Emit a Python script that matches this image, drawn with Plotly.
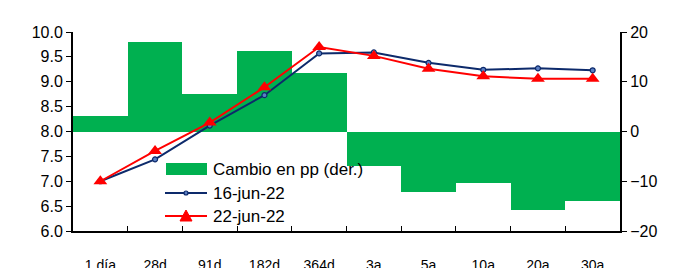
import plotly.graph_objects as go

categories = ["1 día", "28d", "91d", "182d", "364d", "3a", "5a", "10a", "20a", "30a"]
cambio_pp = [3.1, 18.0, 7.5, 16.2, 11.8, -6.9, -12.2, -10.3, -15.8, -13.9]
jun16 = [7.00, 7.44, 8.12, 8.73, 9.57, 9.59, 9.38, 9.24, 9.27, 9.23]
jun22 = [7.00, 7.61, 8.18, 8.89, 9.70, 9.52, 9.26, 9.11, 9.06, 9.06]
left_ticks = [6.0, 6.5, 7.0, 7.5, 8.0, 8.5, 9.0, 9.5, 10.0]
right_ticks = [-20, -10, 0, 10, 20]
legend_names = ["Cambio en pp (der.)", "16-jun-22", "22-jun-22"]

FONT = "Liberation Sans, Arial, sans-serif"
GREEN, NAVY, RED = "#00B050", "#0D2A6B", "#FF0000"
OFF = 8  # page body margin
W, H = 675 - OFF, 268 - OFF
PL, PR, PT, PB = 73, 620, 32, 231  # plot area in page pixels
ML, MR, MT, MB = PL - OFF, W + OFF - PR, PT - OFF, H + OFF - PB
PW, PH = PR - PL, PB - PT


def px(x):
    return (x - PL) / PW


def py(y):
    return (PB - y) / PH


fig = go.Figure()
fig.add_trace(go.Bar(x=categories, y=cambio_pp, yaxis="y", name=legend_names[0],
                     marker=dict(color=GREEN, line=dict(width=0)), showlegend=False))
fig.add_trace(go.Scatter(x=categories, y=jun16, mode="lines+markers", yaxis="y2",
                         name=legend_names[1], showlegend=False,
                         line=dict(color=NAVY, width=2),
                         marker=dict(symbol="circle", size=5, color="#5B7FC4",
                                     line=dict(color=NAVY, width=1.2))))
fig.add_trace(go.Scatter(x=categories, y=jun22, mode="lines+markers", yaxis="y2",
                         name=legend_names[2], showlegend=False,
                         line=dict(color=RED, width=2),
                         marker=dict(symbol="triangle-up", size=12, color=RED)))

# custom legend (paper coordinates)
shapes = [
    dict(type="rect", xref="paper", yref="paper", x0=px(166), x1=px(207), y0=py(175), y1=py(163),
         fillcolor=GREEN, line=dict(width=0)),
    dict(type="line", xref="paper", yref="paper", x0=px(165), x1=px(207), y0=py(193), y1=py(193),
         line=dict(color=NAVY, width=2)),
    dict(type="circle", xref="paper", yref="paper", x0=px(184), x1=px(188), y0=py(195), y1=py(191),
         fillcolor="#5B7FC4", line=dict(color=NAVY, width=1.2)),
    dict(type="line", xref="paper", yref="paper", x0=px(165), x1=px(207), y0=py(216), y1=py(216),
         line=dict(color=RED, width=2)),
    dict(type="path", xref="paper", yref="paper",
         path=f"M {px(180)} {py(221)} L {px(192)} {py(221)} L {px(186)} {py(210)} Z",
         fillcolor=RED, line=dict(color=RED, width=1)),
]
annotations = [
    dict(text=legend_names[i], xref="paper", yref="paper", x=px(211), y=py(yy),
         xanchor="left", yanchor="middle", showarrow=False,
         font=dict(size=17, family=FONT, color="black"))
    for i, yy in enumerate([169, 193, 216])
]

fig.update_layout(
    width=W, height=H,
    margin=dict(l=ML, r=MR, t=MT, b=MB),
    paper_bgcolor="white", plot_bgcolor="white",
    font=dict(family=FONT, size=16, color="black"),
    bargap=0,
    showlegend=False,
    shapes=shapes,
    annotations=annotations,
    xaxis=dict(type="category", range=[-0.5, len(categories) - 0.5],
               showline=True, linecolor="black", linewidth=2,
               ticks="inside", tickson="boundaries", ticklen=5, tickcolor="black",
               tickfont=dict(size=14), ticklabelstandoff=20, showgrid=False,
               zeroline=False, automargin=False),
    yaxis=dict(range=[-20, 20], tickvals=right_ticks, side="right",
               showline=True, linecolor="black", linewidth=2, ticks="outside",
               ticklen=5, tickcolor="black", showgrid=False, zeroline=False,
               automargin=False),
    yaxis2=dict(range=[6, 10], tickvals=left_ticks, ticktext=[f"{v:.1f}" for v in left_ticks],
                overlaying="y", side="left",
                showline=True, linecolor="black", linewidth=2, ticks="outside",
                ticklen=5, tickcolor="black", showgrid=False, zeroline=False,
                automargin=False, layer="above traces"),
)
fig.write_html("out.html")
